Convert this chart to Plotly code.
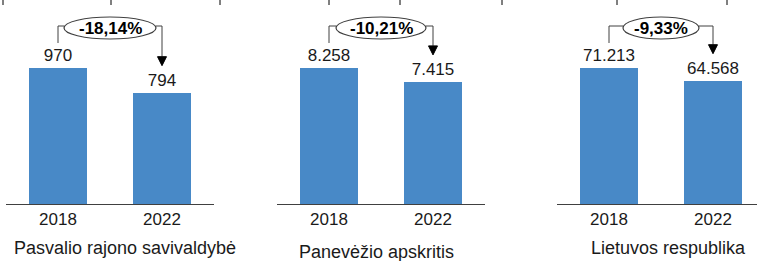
import plotly.graph_objects as go

# ---- data ----
years = ["2018", "2022"]
panel_titles = ["Pasvalio rajono savivaldybė", "Panevėžio apskritis", "Lietuvos respublika"]
pasvalio = [970, 794]
panevezio = [8258, 7415]
lietuva = [71213, 64568]
series = [pasvalio, panevezio, lietuva]

# ---- layout helpers (pixels) ----
W, H = 757, 261
BASE = 204          # baseline pixel row
TOPBAR = 68         # pixel row of the tallest bar
CAT = 104           # px per category
def fx(px): return px / W
def fy(py): return 1 - py / H

x_domains_px = [(6, 214), (277, 485), (557, 757)]
title_pos = [(125, 248), (376, 252), (668, 248)]
ell_half = [46, 45, 38]
BLUE = "#4889C7"
LINE = "#404040"
FONT = "Liberation Sans, Arial, sans-serif"

fig = go.Figure()
shapes, annotations = [], []
layout_axes = {}

for i, vals in enumerate(series):
    n = i + 1
    xa = "x" if n == 1 else f"x{n}"
    ya = "y" if n == 1 else f"y{n}"
    ymax = max(vals) * BASE / (BASE - TOPBAR)
    u = ymax / BASE  # data units per pixel
    d0, d1 = x_domains_px[i]
    xr = [-0.5, -0.5 + (d1 - d0) / CAT]

    fig.add_trace(go.Bar(
        x=[0, 1], y=vals, xaxis=xa, yaxis=ya, width=0.56,
        marker=dict(color=BLUE, line=dict(width=0)),
        texttemplate="%{y:,.0f}", textposition="outside", cliponaxis=False,
        textfont=dict(family=FONT, size=17, color="#1a1a1a"),
        showlegend=False, hoverinfo="skip"))

    layout_axes["xaxis" if n == 1 else f"xaxis{n}"] = dict(
        domain=[fx(d0), fx(d1)], range=xr, tickmode="array", tickvals=[0, 1],
        ticktext=years, showline=True, linecolor=LINE, linewidth=1, ticks="",
        showgrid=False, zeroline=False, anchor=ya, fixedrange=True,
        tickfont=dict(family=FONT, size=17, color="#1a1a1a"))
    layout_axes["yaxis" if n == 1 else f"yaxis{n}"] = dict(
        domain=[fy(BASE), 1], range=[0, ymax], visible=False, anchor=xa,
        showgrid=False, zeroline=False, fixedrange=True)

    xref, yref = xa, ya
    yH = (BASE - 26) * u
    hw = ell_half[i] / CAT
    # left bracket
    shapes.append(dict(type="path", xref=xref, yref=yref,
                       path=f"M 0,{vals[0] + 25*u} L 0,{yH} L {0.5-hw},{yH}",
                       line=dict(color=LINE, width=1)))
    # right bracket with arrow
    tip = vals[1] + 27 * u
    headb = tip + 9 * u
    shapes.append(dict(type="path", xref=xref, yref=yref,
                       path=f"M {0.5+hw},{yH} L 1,{yH} L 1,{headb}",
                       line=dict(color=LINE, width=1)))
    ah = 4.5 / CAT
    shapes.append(dict(type="path", xref=xref, yref=yref,
                       path=f"M {1-ah},{headb} L {1+ah},{headb} L 1,{tip} Z",
                       fillcolor="#000000", line=dict(color="#000000", width=1)))
    # ellipse
    shapes.append(dict(type="circle", xref=xref, yref=yref,
                       x0=0.5-hw, x1=0.5+hw, y0=(BASE-39)*u, y1=(BASE-17)*u,
                       fillcolor="white", line=dict(color=LINE, width=1.2)))
    pct = (vals[1] / vals[0] - 1) * 100
    annotations.append(dict(xref=xref, yref=yref, x=0.5, y=(BASE-28)*u,
                            text=f"<b>{pct:.2f}%</b>".replace(".", ","),
                            showarrow=False, xanchor="center", yanchor="middle",
                            font=dict(family=FONT, size=17, color="#000000")))
    tx, ty = title_pos[i]
    annotations.append(dict(xref="paper", yref="paper", x=fx(tx), y=fy(ty),
                            text=panel_titles[i], showarrow=False,
                            xanchor="center", yanchor="middle",
                            font=dict(family=FONT, size=18, color="#1a1a1a")))

# small tick marks along the top edge
for px in [3, 111, 220, 329, 400, 502, 617, 727]:
    shapes.append(dict(type="line", xref="paper", yref="paper",
                       x0=fx(px), x1=fx(px), y0=fy(0), y1=fy(5),
                       line=dict(color="#000000", width=1)))

fig.update_layout(
    width=W, height=H, margin=dict(l=0, r=0, t=0, b=0),
    paper_bgcolor="white", plot_bgcolor="white",
    separators=",.", shapes=shapes, annotations=annotations,
    bargap=0, **layout_axes)

fig.write_html("out.html", config={"displayModeBar": False},
               post_script="document.body.style.margin='0';document.body.style.overflow='hidden';")
